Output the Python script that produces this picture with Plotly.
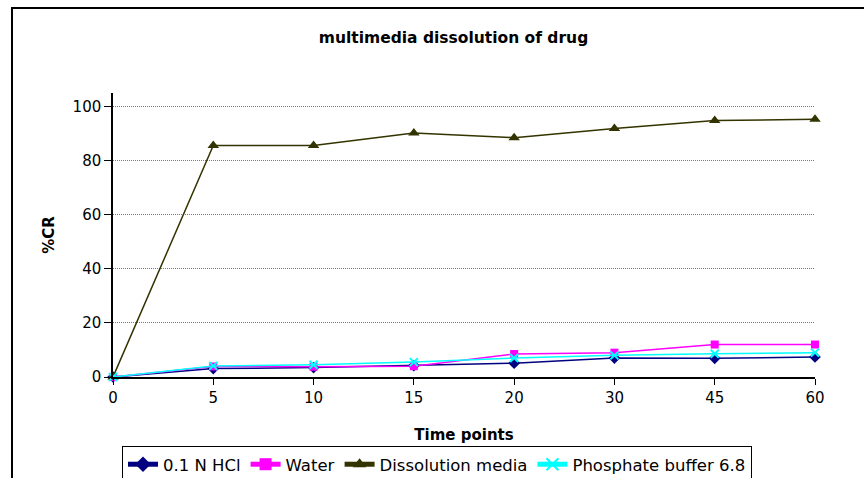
import plotly.graph_objects as go

time_points = ["0", "5", "10", "15", "20", "30", "45", "60"]
hcl = [0, 3.1, 3.5, 4.2, 5.1, 7.0, 6.9, 7.4]
water = [0, 3.9, 3.8, 4.0, 8.5, 9.0, 12.0, 12.0]
dissolution = [0, 85.6, 85.6, 90.2, 88.5, 91.9, 94.8, 95.3]
phosphate = [0, 4.1, 4.5, 5.5, 7.0, 8.0, 8.6, 9.0]
y_ticks = [0, 20, 40, 60, 80, 100]

W, H = 864, 478
L, R, T, B = 113, 49, 93, 101
pw, ph = W - L - R, H - T - B

def px_x(p):
    return (p - L) / pw

def px_y(p):
    return (H - B - p) / ph

fig = go.Figure()
series = [
    ("0.1 N HCl", hcl, "#000080", "diamond", 9, 1.5),
    ("Water", water, "#FF00FF", "square", 8, 1.5),
    ("Dissolution media", dissolution, "#333300", "triangle-up", 10, 1.5),
    ("Phosphate buffer 6.8", phosphate, "#00FFFF", "x-thin-open", 8, 1.5),
]
for name, vals, col, sym, sz, lw in series:
    marker = dict(symbol=sym, size=sz, color=col)
    if sym.startswith("x-thin"):
        marker["line"] = dict(color=col, width=2)
    fig.add_trace(go.Scatter(
        x=time_points, y=vals, name=name, mode="lines+markers",
        line=dict(color=col, width=lw), marker=marker, cliponaxis=False,
    ))

font_family = "DejaVu Sans, Liberation Sans, Arial, sans-serif"
fig.update_layout(
    width=W, height=H,
    margin=dict(l=L, r=R, t=T, b=B, autoexpand=False),
    paper_bgcolor="white", plot_bgcolor="white",
    font=dict(family=font_family, size=15, color="black"),
    title=dict(text="<b>multimedia dissolution of drug</b>", x=453.5 / W, xanchor="center",
               y=1 - 38 / H, yanchor="middle", font=dict(size=15.5)),
    showlegend=True,
    legend=dict(orientation="h", x=px_x(437), xanchor="center", y=px_y(446), yanchor="top",
                bordercolor="black", borderwidth=1, font=dict(size=16.5),
                itemsizing="constant", tracegroupgap=0),
    xaxis=dict(type="category", range=[0, 7], showline=True, linecolor="black", linewidth=1.5,
               ticks="outside", ticklen=6, tickcolor="black", showgrid=False,
               title=dict(text="<b>Time points</b>", standoff=24, font=dict(size=15)),
               tickfont=dict(size=15), automargin=False),
    yaxis=dict(range=[0, 105], tickvals=y_ticks, showline=True, linecolor="black", linewidth=1.5,
               ticks="outside", ticklen=7, tickcolor="black", showgrid=True,
               gridcolor="#7a7a7a", griddash="1px,1px", gridwidth=1, zeroline=False,
               title=dict(text="<b>%CR</b>", standoff=14, font=dict(size=15)),
               tickfont=dict(size=15), automargin=False),
)
fig.add_shape(type="rect", xref="paper", yref="paper",
              x0=px_x(12), x1=px_x(870), y0=px_y(486), y1=px_y(8),
              line=dict(color="black", width=2), fillcolor="rgba(0,0,0,0)", layer="below")

fig.write_html("out.html")
